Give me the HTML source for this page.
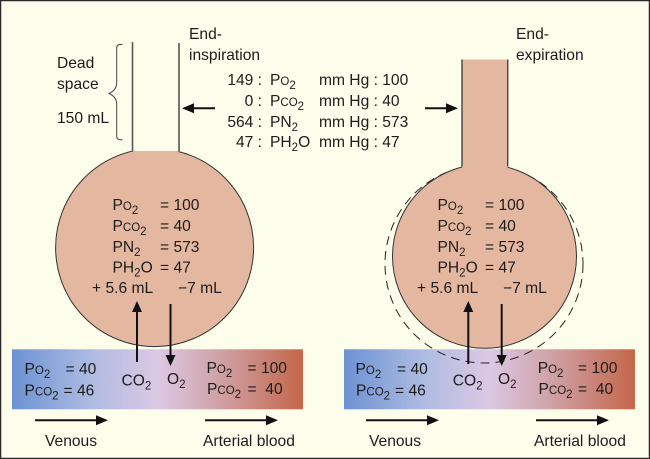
<!DOCTYPE html>
<html><head><meta charset="utf-8">
<style>
html,body{margin:0;padding:0;background:#fdfdec}
svg{display:block}
text{font-family:"Liberation Sans",Arial,sans-serif;font-size:15.6px;fill:#1c1c1c}
.s{font-size:11.5px}
.b{font-size:11.5px;baseline-shift:-3.5px}
</style></head>
<body>
<svg width="650" height="459" viewBox="0 0 650 459" xmlns="http://www.w3.org/2000/svg">
<defs>
<linearGradient id="g"><stop offset="0" stop-color="#6c92d2"/><stop offset=".28" stop-color="#b0bce2"/><stop offset=".5" stop-color="#dcc8e4"/><stop offset=".72" stop-color="#cfa0a4"/><stop offset="1" stop-color="#c4664a"/></linearGradient>
<clipPath id="cl"><rect x="0" y="151" width="325" height="300"/></clipPath>
</defs>
<rect x="0.5" y="0.5" width="649" height="458" fill="#fdfdec" stroke="#2a2a2a" stroke-width="1.5"/>

<!-- left lung -->
<circle cx="154.6" cy="247.6" r="99" fill="#e4b7a0" stroke="#333" stroke-width="1" clip-path="url(#cl)"/>
<rect x="133" y="151" width="45.5" height="8" fill="#e4b7a0"/>
<path d="M132.5 42V151M179 43V151" fill="none" stroke="#555" stroke-width="1.6"/>
<path d="M122.5 44.5H120Q116.7 44.5 116.7 48V83Q116.7 90 109 93.5Q116.7 97 116.7 104V136Q116.7 139.7 120 139.7H122.5" fill="none" stroke="#444" stroke-width="1"/>

<!-- blood bars -->
<rect x="12" y="349.3" width="291" height="60" fill="url(#g)"/>
<rect x="344" y="349.3" width="291" height="60" fill="url(#g)"/>
<circle cx="484" cy="264" r="99" fill="none" stroke="#222" stroke-width="1" stroke-dasharray="9 6"/>

<!-- right lung -->
<circle cx="484.5" cy="256.3" r="92" fill="#e4b7a0" stroke="#333" stroke-width="1"/>
<rect x="462" y="59.5" width="45.7" height="115" fill="#e4b7a0"/>
<path d="M462 59.5V166.5M507.7 59.5V166.5" fill="none" stroke="#444" stroke-width="1.4"/>

<!-- arrows -->
<g stroke="#111" stroke-width="2" fill="none">
<path d="M137 362V310M170.5 304V356M468.3 364V310M501.7 304V356"/>
<path d="M215 108.3H192M425 108.3H448"/>
<path d="M35 420.3H97M205 420.3H267M366 420.3H428M536 420.3H598"/>
</g>
<g fill="#111">
<path d="M137 301l-5 11h10zM170.5 366l-5 -11h10zM468.3 301l-5 11h10zM501.7 366l-5 -11h10z"/>
<path d="M182 108.3l12 -5v10zM458 108.3l-12 -5v10z"/>
<path d="M108 420.3l-12 -5v10zM278 420.3l-12 -5v10zM439 420.3l-12 -5v10zM609 420.3l-12 -5v10z"/>
</g>

<!-- top labels -->
<text x="189" y="39">End-</text>
<text x="189" y="60">inspiration</text>
<text x="516" y="39">End-</text>
<text x="516" y="60">expiration</text>
<text x="57" y="68">Dead</text>
<text x="57" y="89">space</text>
<text x="57" y="123">150 mL</text>

<!-- centre table -->
<text x="262" y="85" text-anchor="end">149 :</text>
<text x="262" y="106" text-anchor="end">0 :</text>
<text x="262" y="127" text-anchor="end">564 :</text>
<text x="262" y="147" text-anchor="end">47 :</text>
<text x="270" y="85">P<tspan class="s">O</tspan><tspan class="b">2</tspan></text>
<text x="270" y="106">P<tspan class="s">CO</tspan><tspan class="b">2</tspan></text>
<text x="270" y="127">PN<tspan class="b">2</tspan></text>
<text x="270" y="147">PH<tspan class="b">2</tspan>O</text>
<text x="319" y="85">mm Hg : 100</text>
<text x="319" y="106">mm Hg : 40</text>
<text x="319" y="127">mm Hg : 573</text>
<text x="319" y="147">mm Hg : 47</text>

<!-- left alveolus text -->
<text x="112.5" y="210">P<tspan class="s">O</tspan><tspan class="b">2</tspan></text>
<text x="160" y="210">= 100</text>
<text x="112.5" y="231">P<tspan class="s">CO</tspan><tspan class="b">2</tspan></text>
<text x="160" y="231">= 40</text>
<text x="112.5" y="252">PN<tspan class="b">2</tspan></text>
<text x="160" y="252">= 573</text>
<text x="112.5" y="272.5">PH<tspan class="b">2</tspan>O</text>
<text x="160" y="272.5">= 47</text>
<text x="92" y="293">+ 5.6 mL</text>
<text x="178" y="293">−7 mL</text>

<!-- right alveolus text -->
<text x="437.5" y="210">P<tspan class="s">O</tspan><tspan class="b">2</tspan></text>
<text x="485" y="210">= 100</text>
<text x="437.5" y="231">P<tspan class="s">CO</tspan><tspan class="b">2</tspan></text>
<text x="485" y="231">= 40</text>
<text x="437.5" y="252">PN<tspan class="b">2</tspan></text>
<text x="485" y="252">= 573</text>
<text x="437.5" y="272.5">PH<tspan class="b">2</tspan>O</text>
<text x="485" y="272.5">= 47</text>
<text x="417" y="293">+ 5.6 mL</text>
<text x="503" y="293">−7 mL</text>

<!-- left blood text -->
<text x="24.5" y="374">P<tspan class="s">O</tspan><tspan class="b">2</tspan></text>
<text x="65.5" y="374">= 40</text>
<text x="24.5" y="395.5">P<tspan class="s">CO</tspan><tspan class="b">2</tspan></text>
<text x="63.5" y="395.5">= 46</text>
<text x="121.5" y="385.5">CO<tspan class="b">2</tspan></text>
<text x="167" y="384">O<tspan class="b">2</tspan></text>
<text x="206.5" y="373">P<tspan class="s">O</tspan><tspan class="b">2</tspan></text>
<text x="247.5" y="373">= 100</text>
<text x="207" y="394">P<tspan class="s">CO</tspan><tspan class="b">2</tspan></text>
<text x="247.5" y="394" xml:space="preserve">=  40</text>

<!-- right blood text -->
<text x="355.5" y="374">P<tspan class="s">O</tspan><tspan class="b">2</tspan></text>
<text x="397" y="374">= 40</text>
<text x="356" y="395.5">P<tspan class="s">CO</tspan><tspan class="b">2</tspan></text>
<text x="395" y="395.5">= 46</text>
<text x="452.7" y="385.5">CO<tspan class="b">2</tspan></text>
<text x="498" y="384">O<tspan class="b">2</tspan></text>
<text x="537.7" y="373">P<tspan class="s">O</tspan><tspan class="b">2</tspan></text>
<text x="578" y="373">= 100</text>
<text x="538.5" y="394">P<tspan class="s">CO</tspan><tspan class="b">2</tspan></text>
<text x="578" y="394" xml:space="preserve">=  40</text>

<!-- bottom labels -->
<text x="45" y="446">Venous</text>
<text x="203" y="446">Arterial blood</text>
<text x="369" y="446">Venous</text>
<text x="534" y="446">Arterial blood</text>
</svg>
</body></html>
